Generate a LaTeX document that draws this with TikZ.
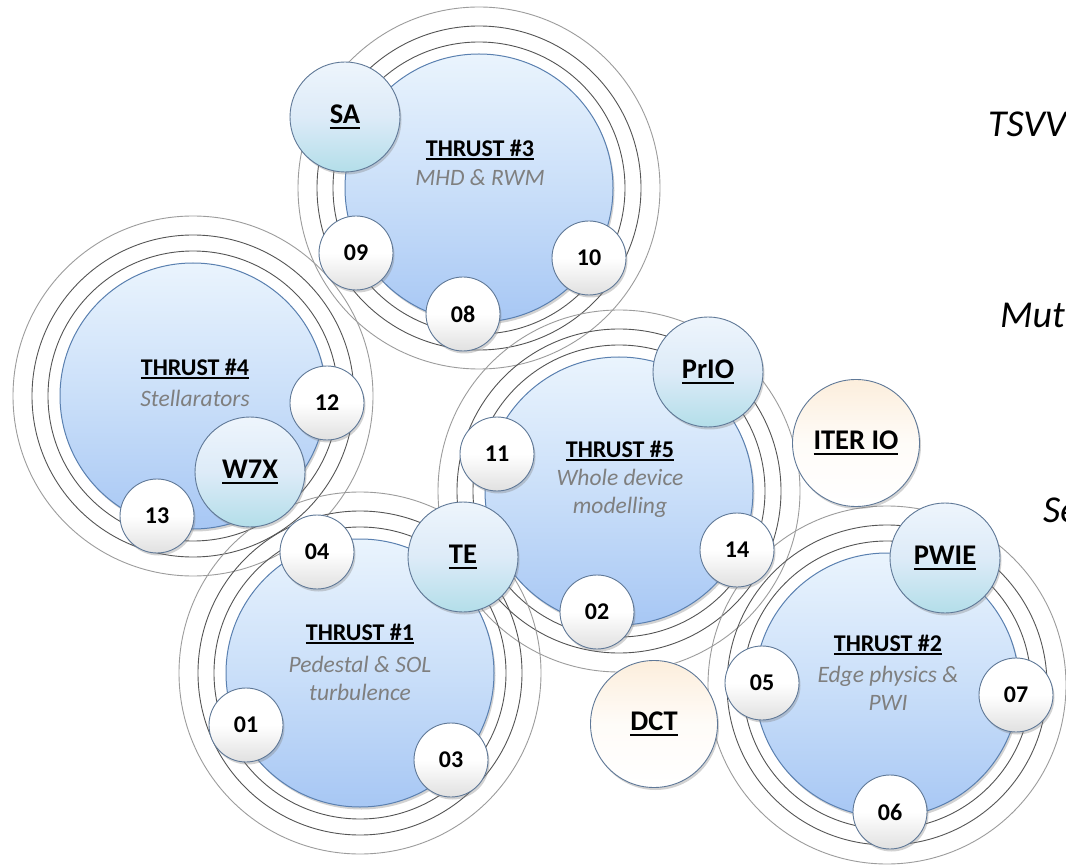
\documentclass[tikz,border=0pt]{standalone}
\usepackage{fontspec}
\setmainfont{Carlito}
\usetikzlibrary{shadows}
\definecolor{mainTop}{HTML}{EAF4FD}
\definecolor{mainMid}{HTML}{CADFF9}
\definecolor{mainBot}{HTML}{A7C7F4}
\definecolor{mainEdge}{HTML}{5A80B0}
\definecolor{blueTop}{HTML}{EEF5FC}
\definecolor{blueMid}{HTML}{DDEBF8}
\definecolor{blueBot}{HTML}{B3DEE9}
\definecolor{creamTop}{HTML}{FCEEDC}
\definecolor{subgray}{HTML}{7F7F7F}
\definecolor{ringdark}{HTML}{555555}
\definecolor{ringlight}{HTML}{9C9C9C}
\definecolor{balledge}{HTML}{5F7897}
\newcommand{\myul}[1]{\setbox0\hbox{#1}\rlap{\rule[-0.17em]{\wd0}{0.075em}}\box0}
\tikzset{
  ringdk/.style={draw=ringdark, line width=0.9pt},
  ringlt/.style={draw=ringlight, line width=0.9pt},
  ballshadow/.style={drop shadow={opacity=0.35, shadow xshift=1.5pt, shadow yshift=-2.5pt}},
  mainball/.style={circle, minimum size=#1, inner sep=0pt, draw=mainEdge, line width=1pt,
    top color=mainTop, bottom color=mainBot, middle color=mainMid, ballshadow},
  smallball/.style={circle, minimum size=74pt, inner sep=0pt, draw=balledge, line width=0.9pt,
    top color=white, bottom color=gray!24, middle color=white, ballshadow,
    font=\fontsize{24}{28}\bfseries\selectfont},
  blueball/.style={circle, minimum size=110pt, inner sep=0pt, draw=balledge, line width=0.9pt,
    top color=blueTop, bottom color=blueBot, middle color=blueMid, ballshadow,
    font=\fontsize{28.5}{32}\bfseries\selectfont},
  creamball/.style={circle, minimum size=127pt, inner sep=0pt, draw=balledge, line width=0.9pt,
    top color=creamTop, bottom color=white, middle color=white!80!creamTop, ballshadow,
    font=\fontsize{28.5}{32}\bfseries\selectfont},
  titletext/.style={inner sep=0pt, font=\fontsize{24}{28}\bfseries\selectfont},
  subtext/.style={inner sep=0pt, align=center, text=subgray, font=\fontsize{23.5}{28}\itshape\selectfont},
  sidetext/.style={inner sep=0pt, anchor=base west, font=\fontsize{38}{44}\itshape\selectfont},
}
\begin{document}
\begin{tikzpicture}[x=1pt,y=-1pt]
\path[use as bounding box] (0,0) rectangle (1066,866);
\clip (0,0) rectangle (1066,866);
\fill[white] (0,0) rectangle (1066,866);
% centres of the five thrusts
\coordinate (c3) at (479,188);
\coordinate (c4) at (193,396);
\coordinate (c5) at (619,491);
\coordinate (c1) at (360,673);
\coordinate (c2) at (887,685);
% concentric rings
\foreach \c/\r in {c3/134, c4/133, c5/134, c1/134, c2/132}{
  \draw[ringdk] (\c) circle[radius=\r+12];
  \draw[ringdk] (\c) circle[radius=\r+28];
  \draw[ringlt] (\c) circle[radius=\r+47];
}
% main circles
\node[mainball=268pt] (t3) at (c3) {};
\node[mainball=266pt] (t4) at (c4) {};
\node[mainball=268pt] (t5) at (c5) {};
\node[mainball=268pt] (t1) at (c1) {};
\node[mainball=264pt] (t2) at (c2) {};
% thrust texts
\node[titletext] (t3title) at (480,150) {\myul{THRUST \#3}};
\node[subtext] (t3sub) at (480,178) {MHD \& RWM};
\node[titletext] (t4title) at (195,369) {\myul{THRUST \#4}};
\node[subtext] (t4sub) at (195,398) {Stellarators};
\node[titletext] (t5title) at (620,451) {\myul{THRUST \#5}};
\node[subtext] (t5sub) at (620,493) {Whole device\\modelling};
\node[titletext] (t1title) at (360,634) {\myul{THRUST \#1}};
\node[subtext] (t1sub) at (360,678) {Pedestal \& SOL\\turbulence};
\node[titletext] (t2title) at (888,645) {\myul{THRUST \#2}};
\node[subtext] (t2sub) at (888,688) {Edge physics \&\\PWI};
% satellites
\node[blueball] (sa) at (345,117) {\myul{SA}};
\node[smallball] (s09) at (356,253) {09};
\node[smallball] (s10) at (589,258) {10};
\node[smallball] (s08) at (463,314) {08};
\node[smallball] (s12) at (327,403) {12};
\node[blueball] (w7x) at (250,472) {\myul{W7X}};
\node[smallball] (s13) at (157,516) {13};
\node[smallball] (s11) at (497,454) {11};
\node[blueball] (prio) at (708,372) {\myul{PrIO}};
\node[smallball] (s14) at (737,550) {14};
\node[smallball] (s02) at (597,612) {02};
\node[smallball] (s04) at (317,552) {04};
\node[blueball] (te) at (463,557) {\myul{TE}};
\node[smallball] (s01) at (246,725) {01};
\node[smallball] (s03) at (451,760) {03};
\node[blueball] (pwie) at (945,558) {\myul{PWIE}};
\node[smallball] (s05) at (762,683) {05};
\node[smallball] (s07) at (1016,695) {07};
\node[smallball] (s06) at (890,812) {06};
\node[creamball] (iterio) at (856,443) {\myul{ITER IO}};
\node[creamball] (dct) at (654,724) {\myul{DCT}};
% side texts (cut by the right edge, as in the reference)
\node[sidetext] (tsvv) at (988,137) {TSVV};
\node[sidetext] (mut) at (1000,328) {Mut};
\node[sidetext] (se) at (1043,522) {Se};
\end{tikzpicture}
\end{document}
